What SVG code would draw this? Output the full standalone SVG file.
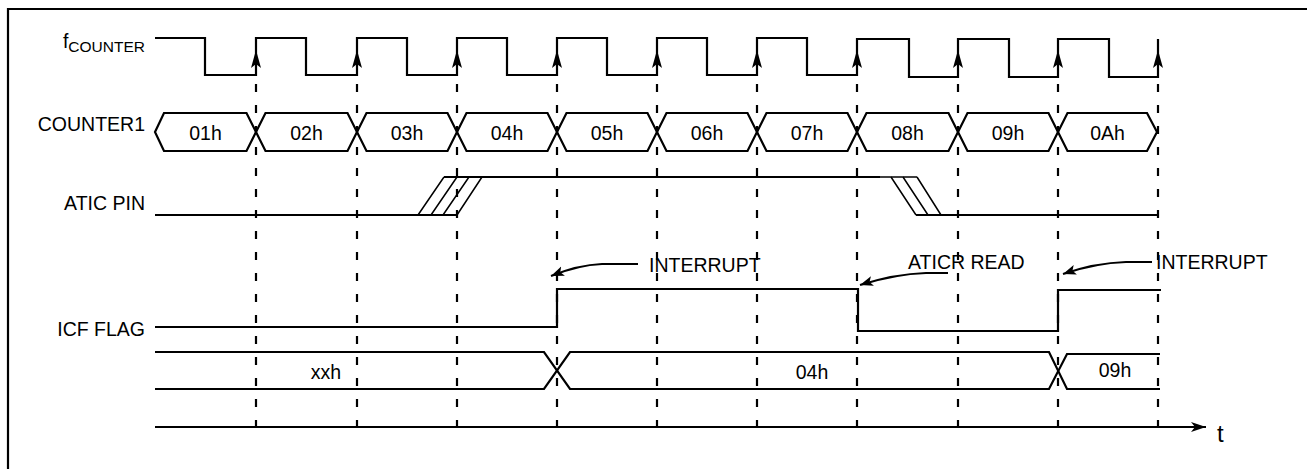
<svg xmlns="http://www.w3.org/2000/svg" width="1307" height="469" viewBox="0 0 1307 469">
<style>
text{font-family:"Liberation Sans",Arial,sans-serif;font-size:19.5px;fill:#000}
.sig{fill:none;stroke:#000;stroke-width:2.2}
.thin{fill:none;stroke:#000;stroke-width:1.5}
.dash{fill:none;stroke:#000;stroke-width:2.2;stroke-dasharray:8 13}
.call{fill:none;stroke:#000;stroke-width:2}
.c{text-anchor:middle}
.lbl{text-anchor:end}
.sub{font-size:15.5px}
.tl{font-size:24px}
</style>
<defs>
<path id="up" d="M0,0 L-5,18 L0,14 L5,18 Z" fill="#000"/>
<marker id="ah" markerUnits="userSpaceOnUse" markerWidth="16" markerHeight="12" refX="13" refY="5" orient="auto">
<path d="M0,0 L13,5 L0,10 L3,5 Z" fill="#000"/>
</marker>
<marker id="axh" markerUnits="userSpaceOnUse" markerWidth="18" markerHeight="12" refX="15" refY="6" orient="auto">
<path d="M0,1 L15,6 L0,11 L4,6 Z" fill="#000"/>
</marker>
</defs>
<rect width="1307" height="469" fill="#fff"/>
<path d="M8,469 V9 H1307" fill="none" stroke="#000" stroke-width="2.2"/>

<g id="labels">
<text class="lbl" x="145" y="48">f<tspan class="sub" dy="4">COUNTER</tspan></text>
<text class="lbl" x="145" y="131">COUNTER1</text>
<text class="lbl" x="145" y="210">ATIC PIN</text>
<text class="lbl" x="145" y="336">ICF FLAG</text>
</g>

<g id="connectors">
<g id="grid">
<path class="dash" d="M256,84 V430 M357,84 V430 M457,84 V430 M557,84 V430 M657,84 V430 M757,84 V430 M857,84 V430 M958,84 V430 M1058,84 V430 M1158,84 V430"/>
</g>
<path class="call" d="M638,264 H602 Q578,265 551,276" marker-end="url(#ah)"/>
<path class="call" d="M948,273 H926 Q895,274 860,285" marker-end="url(#ah)"/>
<path class="call" d="M1152,262 H1126 Q1095,263 1063,274" marker-end="url(#ah)"/>
</g>

<g id="fcounter">
<path class="sig" d="M155,38 H205 V75 H256 V38 H306 V75 H357 V38 H407 V75 H457 V38 H507 V75 H557 V38 H607 V75 H657 V38 H707 V75 H757 V38 H807 V75 H857 V39 H909 V77 H958 V39 H1009 V77 H1058 V39 H1109 V77 H1158 V39"/>
<use href="#up" x="256" y="50"/>
<use href="#up" x="357" y="50"/>
<use href="#up" x="457" y="50"/>
<use href="#up" x="557" y="50"/>
<use href="#up" x="657" y="50"/>
<use href="#up" x="757" y="50"/>
<use href="#up" x="857" y="50"/>
<use href="#up" x="958" y="50"/>
<use href="#up" x="1058" y="50"/>
<use href="#up" x="1158" y="50"/>
</g>

<g id="counter1">
<path class="sig" d="M155,132 L164,113 H246.5 L256,132 L246.5,151 H164 Z"/>
<path class="sig" d="M256,132 L265.5,113 H347.5 L357,132 L347.5,151 H265.5 Z"/>
<path class="sig" d="M357,132 L366.5,113 H447.5 L457,132 L447.5,151 H366.5 Z"/>
<path class="sig" d="M457,132 L466.5,113 H547.5 L557,132 L547.5,151 H466.5 Z"/>
<path class="sig" d="M557,132 L566.5,113 H647.5 L657,132 L647.5,151 H566.5 Z"/>
<path class="sig" d="M657,132 L666.5,113 H747.5 L757,132 L747.5,151 H666.5 Z"/>
<path class="sig" d="M757,132 L766.5,113 H847.5 L857,132 L847.5,151 H766.5 Z"/>
<path class="sig" d="M857,132 L866.5,113 H948.5 L958,132 L948.5,151 H866.5 Z"/>
<path class="sig" d="M958,132 L967.5,113 H1048.5 L1058,132 L1048.5,151 H967.5 Z"/>
<path class="sig" d="M1058,132 L1067.5,113 H1147 L1157,132 L1147,151 H1067.5 Z"/>
<text class="c" x="205.5" y="140">01h</text>
<text class="c" x="306.5" y="140">02h</text>
<text class="c" x="407" y="140">03h</text>
<text class="c" x="507" y="140">04h</text>
<text class="c" x="607" y="140">05h</text>
<text class="c" x="707" y="140">06h</text>
<text class="c" x="807" y="140">07h</text>
<text class="c" x="907.5" y="140">08h</text>
<text class="c" x="1008" y="140">09h</text>
<text class="c" x="1107.5" y="140">0Ah</text>
</g>

<g id="aticpin">
<path class="sig" d="M155,215 H457"/>
<path class="sig" d="M444,177 H880"/>
<path class="thin" d="M880,177 H917"/>
<path class="thin" d="M418,215 L444,177 M431,215 L457,177 M443,215 L469,177 M457,215 L482,177"/>
<path class="thin" d="M891,177 L916,215 M903,177 L928,215 M917,177 L941,215"/>
<path class="sig" d="M916,215 H1158"/>
</g>

<g id="icfflag">
<path class="sig" d="M155,327 H557 V289 H858 V331 H1058 V290 H1161"/>
<text x="649" y="272">INTERRUPT</text>
<text x="908" y="269">ATICR READ</text>
<text x="1156" y="269">INTERRUPT</text>
</g>

<g id="aticr">
<path class="sig" d="M155,352 H544 L570,389 H1049 L1067,354 H1160"/>
<path class="sig" d="M155,389 H544 L570,352 H1049 L1067,389 H1160"/>
<text class="c" x="326" y="379">xxh</text>
<text class="c" x="812" y="379">04h</text>
<text class="c" x="1115" y="377">09h</text>
</g>

<g id="axis">
<path class="sig" d="M155,427 H1206" marker-end="url(#axh)"/>
<text class="tl" x="1217" y="442">t</text>
</g>
</svg>
